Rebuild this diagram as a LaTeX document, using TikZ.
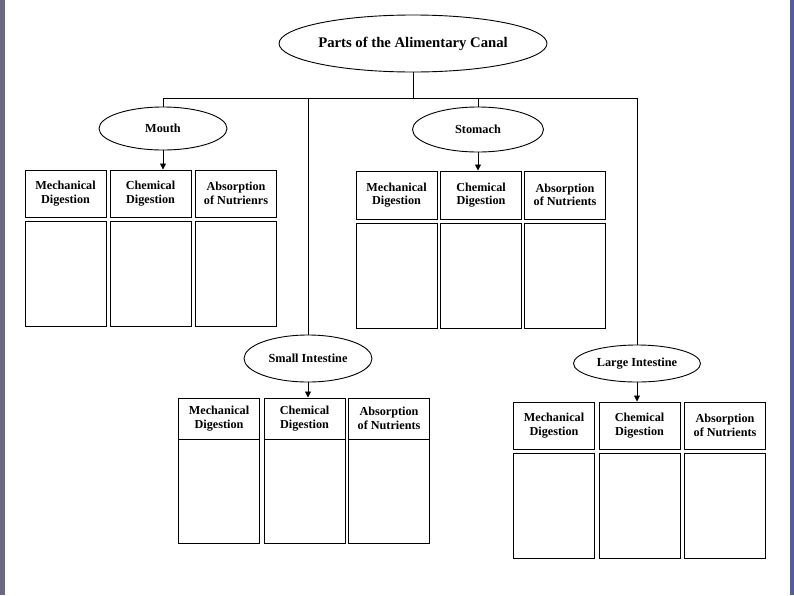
\documentclass[tikz,border=0pt]{standalone}
\usepackage{fontspec}
\setmainfont{Liberation Serif}
\usetikzlibrary{shapes.geometric,arrows.meta}
\definecolor{lstrip}{RGB}{105,105,130}
\definecolor{rstrip}{RGB}{84,94,150}
\tikzset{
  oval/.style={ellipse,draw,line width=0.9pt,inner sep=0pt,font=\bfseries\fontsize{12.3}{14}\selectfont},
  head/.style={rectangle,draw,line width=1pt,inner sep=0pt,align=center,minimum width=81pt,font=\bfseries\fontsize{12.2}{13.5}\selectfont},
  body/.style={rectangle,draw,line width=1pt,inner sep=0pt,minimum width=81pt},
  link/.style={line width=0.9pt},
  arr/.style={line width=0.9pt,-{Triangle[length=6pt,width=6pt]}}
}
\begin{document}
\begin{tikzpicture}[x=1pt,y=-1pt]
\useasboundingbox (0,0) rectangle (794,595);
\fill[white] (0,0) rectangle (794,595);
\fill[lstrip] (0,0) rectangle (5,595);
\fill[rstrip] (790,0) rectangle (794,595);

% title
\node[oval,minimum width=216pt,minimum height=57pt,font=\bfseries\fontsize{14.7}{16}\selectfont] (title) at (413,43.5) {Parts of the Alimentary Canal};
\coordinate (jc) at (413,98);
\coordinate (jm) at (163,98);
\coordinate (js) at (478,98);
\coordinate (jsi) at (308,98);
\coordinate (jli) at (637,98);

% second level ellipses
\node[oval,minimum width=128pt,minimum height=43pt] (mouth) at (163,128.5) {Mouth};
\node[oval,minimum width=131pt,minimum height=45pt] (stomach) at (478,129.5) {Stomach};
\node[oval,minimum width=128pt,minimum height=47pt] (small) at (308,358.5) {Small Intestine};
\node[oval,minimum width=127pt,minimum height=37pt] (large) at (637,363.5) {Large Intestine};

% mouth boxes
\node[head,minimum height=47pt] (m1) at (65.5,193.5) {Mechanical\\Digestion};
\node[head,minimum height=47pt] (m2) at (150.5,193.5) {Chemical\\Digestion};
\node[head,minimum height=47pt] (m3) at (236,193.5) {Absorption\\of Nutrienrs};
\node[body,minimum height=105pt] (mb1) at (65.5,273.5) {};
\node[body,minimum height=105pt] (mb2) at (150.5,273.5) {};
\node[body,minimum height=105pt] (mb3) at (236,273.5) {};

% stomach boxes
\node[head,minimum height=48pt] (s1) at (396.5,195) {Mechanical\\Digestion};
\node[head,minimum height=48pt] (s2) at (481,195) {Chemical\\Digestion};
\node[head,minimum height=48pt] (s3) at (565,195) {Absorption\\of Nutrients};
\node[body,minimum height=105pt] (sb1) at (396.5,275.5) {};
\node[body,minimum height=105pt] (sb2) at (481,275.5) {};
\node[body,minimum height=105pt] (sb3) at (565,275.5) {};

% small intestine boxes
\node[head,minimum height=41pt] (i1) at (219,418.5) {Mechanical\\Digestion};
\node[head,minimum height=41pt] (i2) at (304.5,418.5) {Chemical\\Digestion};
\node[head,minimum height=41pt] (i3) at (389,418.5) {Absorption\\of Nutrients};
\node[body,minimum height=104pt] (ib1) at (219,491) {};
\node[body,minimum height=104pt] (ib2) at (304.5,491) {};
\node[body,minimum height=104pt] (ib3) at (389,491) {};

% large intestine boxes
\node[head,minimum height=47pt] (l1) at (554,425.5) {Mechanical\\Digestion};
\node[head,minimum height=47pt] (l2) at (639.5,425.5) {Chemical\\Digestion};
\node[head,minimum height=47pt] (l3) at (725,425.5) {Absorption\\of Nutrients};
\node[body,minimum height=105pt] (lb1) at (554,505.5) {};
\node[body,minimum height=105pt] (lb2) at (639.5,505.5) {};
\node[body,minimum height=105pt] (lb3) at (725,505.5) {};

% connectors
\draw[link] (title.south) -- (jc);
\draw[link] (jm) -- (jli);
\draw[link] (jm) -- (mouth.north);
\draw[link] (js) -- (stomach.north);
\draw[link] (jsi) -- (small.north);
\draw[link] (jli) -- (large.north);
\draw[arr] (mouth.south) -- (mouth.south |- m2.north);
\draw[arr] (stomach.south) -- (stomach.south |- s2.north);
\draw[arr] (small.south) -- (small.south |- i2.north);
\draw[arr] (large.south) -- (large.south |- l2.north);
\end{tikzpicture}
\end{document}
